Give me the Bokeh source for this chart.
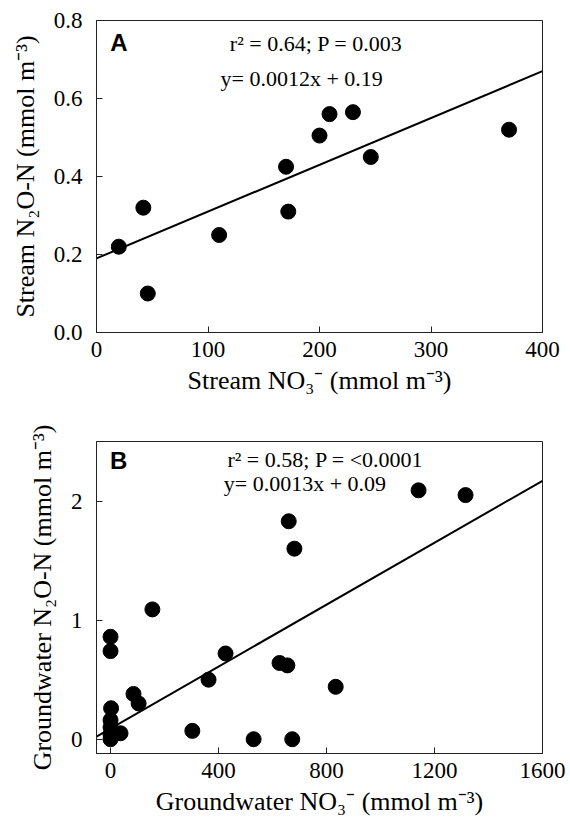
from bokeh.plotting import figure
from bokeh.layouts import column
from bokeh.models import Range1d, FixedTicker, NumeralTickFormatter, Label
from bokeh.embed import file_html
from bokeh.resources import INLINE

# ---- Panel A: stream ----
stream_no3 = [20, 42, 46, 110, 170, 172, 200, 209, 230, 246, 370]
stream_n2o = [0.22, 0.32, 0.10, 0.25, 0.425, 0.31, 0.505, 0.56, 0.565, 0.45, 0.52]
fit_a_x = [0, 400]
fit_a_y = [0.19, 0.67]
a_xticks = [0, 100, 200, 300, 400]
a_yticks = [0.0, 0.2, 0.4, 0.6, 0.8]
a_stats = "r² = 0.64; P = 0.003"
a_eq = "y= 0.0012x + 0.19"

# ---- Panel B: groundwater ----
gw_no3 = [0, 0, 155, 2, 0, 0, 0, 0, 37, 85, 104, 303, 363, 426, 530, 626, 655,
          660, 681, 673, 834, 1141, 1315]
gw_n2o = [0.86, 0.74, 1.09, 0.26, 0.16, 0.10, 0.04, 0.0, 0.05, 0.38, 0.30, 0.07,
          0.50, 0.72, 0.0, 0.64, 0.62, 1.83, 1.60, 0.0, 0.44, 2.09, 2.05]
fit_b_x = [-52, 1600]
fit_b_y = [0.022, 2.17]
b_xticks = [0, 400, 800, 1200, 1600]
b_yticks = [0, 1, 2]
b_stats = "r² = 0.58; P = <0.0001"
b_eq = "y= 0.0013x + 0.09"

SERIF = "Liberation Serif"
SANS = "Liberation Sans"


def style(p, xlabel, ylabel, xticks, yticks):
    p.xgrid.visible = False
    p.ygrid.visible = False
    p.outline_line_color = "#222222"
    p.outline_line_width = 1
    for ax in (p.xaxis[0], p.yaxis[0]):
        ax.axis_line_color = "#222222"
        ax.major_tick_line_color = "#222222"
        ax.major_tick_in = 6
        ax.major_tick_out = 0
        ax.minor_tick_line_color = None
        ax.major_label_text_font = SERIF
        ax.major_label_text_font_size = "23px"
        ax.major_label_text_color = "black"
        ax.axis_label_text_font = SERIF
        ax.axis_label_text_font_size = "26px"
        ax.axis_label_text_font_style = "normal"
        ax.axis_label_text_color = "black"
    p.xaxis[0].axis_label = xlabel
    p.yaxis[0].axis_label = ylabel
    p.xaxis[0].ticker = FixedTicker(ticks=xticks)
    p.yaxis[0].ticker = FixedTicker(ticks=yticks)
    p.xaxis[0].major_label_standoff = 9
    p.yaxis[0].major_label_standoff = 14
    p.xaxis[0].axis_label_standoff = 6
    p.yaxis[0].axis_label_standoff = 11


def label(p, x, y, text, font, size, bold=False):
    p.add_layout(Label(x=x, y=y, text=text, text_font=font,
                       text_font_style="bold" if bold else "normal",
                       text_font_size=size, text_color="black",
                       text_align="center", text_baseline="middle"))


pa = figure(frame_width=446, frame_height=312, output_backend="svg",
            toolbar_location=None, x_range=Range1d(0, 400), y_range=Range1d(0, 0.8),
            min_border_left=96, min_border_right=24, min_border_top=20,
            min_border_bottom=64)
style(pa, "Stream NO₃⁻ (mmol m⁻³)", "Stream N₂O-N (mmol m⁻³)", a_xticks, a_yticks)
pa.yaxis[0].formatter = NumeralTickFormatter(format="0.0")
pa.line(fit_a_x, fit_a_y, line_color="black", line_width=2)
pa.scatter(stream_no3, stream_n2o, size=15, color="black")
label(pa, 20, 0.744, "A", SANS, "24px", bold=True)
label(pa, 197, 0.742, a_stats, SERIF, "22px")
label(pa, 184, 0.652, a_eq, SERIF, "22px")

pb = figure(frame_width=446, frame_height=312, output_backend="svg",
            toolbar_location=None, x_range=Range1d(-52, 1600), y_range=Range1d(-0.12, 2.5),
            min_border_left=96, min_border_right=24, min_border_top=44,
            min_border_bottom=64)
style(pb, "Groundwater NO₃⁻ (mmol m⁻³)", "Groundwater N₂O-N (mmol m⁻³)", b_xticks, b_yticks)
pb.line(fit_b_x, fit_b_y, line_color="black", line_width=2)
pb.scatter(gw_no3, gw_n2o, size=15, color="black")
label(pb, 30, 2.34, "B", SANS, "24px", bold=True)
label(pb, 796, 2.345, b_stats, SERIF, "22px")
label(pb, 720, 2.15, b_eq, SERIF, "22px")

layout = column(pa, pb)
open("out.html", "w").write(file_html(layout, INLINE))
